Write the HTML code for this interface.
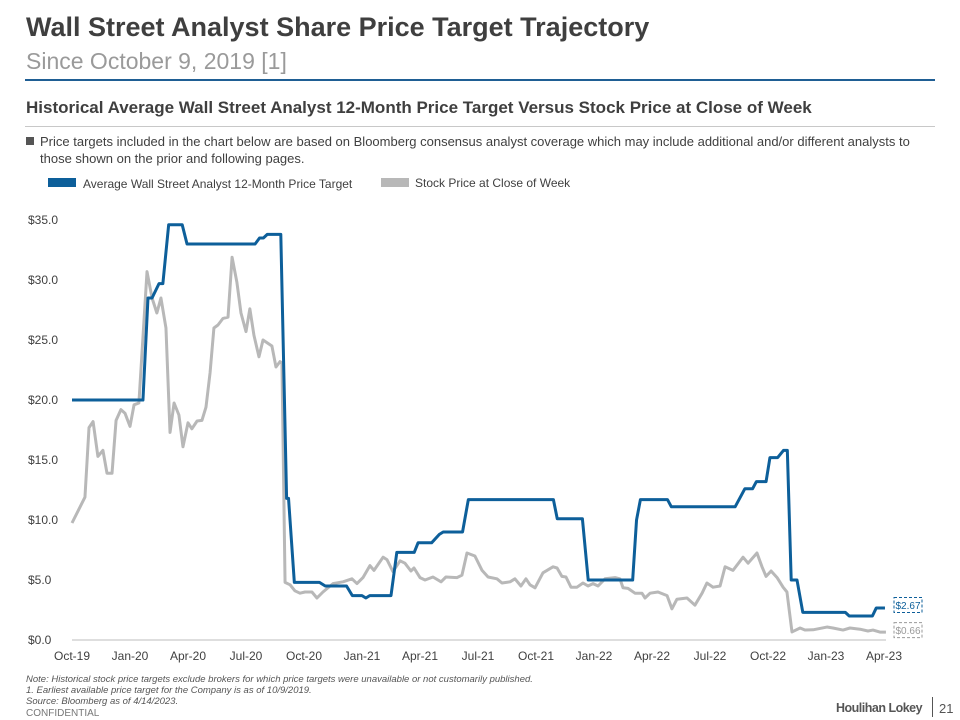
<!DOCTYPE html>
<html><head><meta charset="utf-8"><style>
body{margin:0;width:960px;height:720px;background:#fff;font-family:"Liberation Sans",sans-serif;position:relative;overflow:hidden;color:#404040}
.a{position:absolute;white-space:nowrap}
</style></head><body>
<div class="a" style="left:26px;top:12px;font-size:27px;font-weight:bold;color:#3f3f3f">Wall Street Analyst Share Price Target Trajectory</div>
<div class="a" style="left:26px;top:48px;font-size:23px;color:#9a9a9a">Since October 9, 2019 [1]</div>
<div class="a" style="left:25px;top:79px;width:910px;height:2px;background:#1f5e94"></div>
<div class="a" style="left:26px;top:98px;font-size:17px;font-weight:bold;color:#3f3f3f">Historical Average Wall Street Analyst 12-Month Price Target Versus Stock Price at Close of Week</div>
<div class="a" style="left:25px;top:126px;width:910px;height:1px;background:#c8c8c8"></div>
<div class="a" style="left:26px;top:133px;font-size:13px;line-height:17px"><span style="display:inline-block;width:8px;height:8px;background:#555;margin-right:6px;vertical-align:1px"></span>Price targets included in the chart below are based on Bloomberg consensus analyst coverage which may include additional and/or different analysts to<br><span style="padding-left:14px">those shown on the prior and following pages.</span></div>
<div class="a" style="left:48px;top:178px;width:28px;height:9px;background:#0d5f9a"></div>
<div class="a" style="left:83px;top:177px;font-size:12px">Average Wall Street Analyst 12-Month Price Target</div>
<div class="a" style="left:381px;top:178px;width:28px;height:9px;background:#b8b8b8"></div>
<div class="a" style="left:415px;top:176px;font-size:12px">Stock Price at Close of Week</div>
<svg class="a" id="chart" style="left:0;top:0" width="960" height="720"></svg>
<div class="a" style="left:26px;top:674px;font-size:9.5px;line-height:11px;font-style:italic;color:#555">Note: Historical stock price targets exclude brokers for which price targets were unavailable or not customarily published.<br>1. Earliest available price target for the Company is as of 10/9/2019.<br>Source: Bloomberg as of 4/14/2023.</div>
<div class="a" style="left:26px;top:708px;font-size:10px;color:#777">CONFIDENTIAL</div>
<div class="a" style="left:836px;top:701px;font-size:12.5px;font-weight:bold;color:#555;letter-spacing:-0.5px">Houlihan Lokey</div>
<div class="a" style="left:932px;top:697px;width:1px;height:20px;background:#555"></div>
<div class="a" style="left:939px;top:701px;font-size:13px;color:#555">21</div>
<script>
const xTickLabels=["Oct-19","Jan-20","Apr-20","Jul-20","Oct-20","Jan-21","Apr-21","Jul-21","Oct-21","Jan-22","Apr-22","Jul-22","Oct-22","Jan-23","Apr-23"];
const yTickValues=[0,5,10,15,20,25,30,35];
const targetMonths=[0,3.67,3.93,4.14,4.5,4.7,5.0,5.7,5.95,9.47,9.7,9.9,10.1,10.8,11.1,11.2,11.5,12.8,13.1,14.2,14.5,15.0,15.2,15.4,16.5,16.8,17.7,17.9,18.6,19.0,19.2,20.2,20.5,24.9,25.1,26.4,26.7,29.0,29.2,29.4,30.8,31.0,34.3,34.8,35.2,35.4,35.9,36.1,36.5,36.8,37.0,37.2,37.5,37.8,40.0,40.2,41.4,41.6,42.05];
const targetValues=[20,20,28.5,28.5,29.7,29.7,34.6,34.6,33,33,33.5,33.5,33.8,33.8,11.8,11.8,4.8,4.8,4.5,4.5,3.7,3.7,3.5,3.7,3.7,7.3,7.3,8.1,8.1,8.8,9.0,9.0,11.7,11.7,10.1,10.1,5.0,5.0,10.0,11.7,11.7,11.1,11.1,12.6,12.6,13.2,13.2,15.2,15.2,15.8,15.8,5.0,5.0,2.3,2.3,2.0,2.0,2.67,2.67];
const stockMonths=[0,0.67,0.88,1.09,1.34,1.6,1.81,2.07,2.28,2.53,2.74,3.0,3.21,3.46,3.88,4.14,4.39,4.6,4.86,5.07,5.28,5.53,5.74,6.0,6.2,6.47,6.72,6.93,7.14,7.34,7.55,7.81,8.07,8.28,8.53,8.74,9.0,9.2,9.41,9.67,9.88,10.34,10.55,10.76,10.86,11.02,11.28,11.53,11.79,12.05,12.41,12.67,12.98,13.5,14.02,14.48,14.74,15.05,15.41,15.62,16.09,16.29,16.6,16.97,17.22,17.53,17.69,18.0,18.26,18.67,19.09,19.34,19.91,20.17,20.43,20.84,21.21,21.52,21.98,22.24,22.66,22.91,23.22,23.48,23.69,23.95,24.36,24.88,25.09,25.34,25.55,25.81,26.12,26.43,26.69,26.95,27.21,27.57,28.09,28.34,28.5,28.76,29.12,29.48,29.64,29.9,30.31,30.78,31.03,31.29,31.81,32.22,32.59,32.84,33.16,33.52,33.78,34.19,34.71,34.97,35.43,35.69,35.9,36.16,36.47,36.78,36.98,37.24,37.66,37.91,38.33,39.05,39.36,39.88,40.24,40.76,41.17,41.43,41.79,42.1];
const stockValues=[9.75,11.9,17.7,18.2,15.3,15.8,13.9,13.9,18.3,19.2,18.9,17.8,19.6,19.75,30.7,28.5,27.25,28.5,26,17.3,19.75,18.75,16.1,18.1,17.6,18.25,18.3,19.4,22.25,26,26.25,26.8,26.9,31.9,29.8,27.25,25.7,27.6,25.4,23.6,25,24.5,22.75,23.2,23.1,4.8,4.6,4.1,3.9,4.0,4.0,3.5,4.0,4.7,4.85,5.1,4.7,5.2,6.2,5.8,6.9,6.7,5.7,6.6,6.4,5.75,6.0,5.2,5.0,5.25,4.85,5.25,5.2,5.4,7.25,7.0,5.8,5.25,5.1,4.75,4.85,5.1,4.5,5.1,4.6,4.35,5.6,6.1,6.0,5.3,5.25,4.4,4.4,4.75,4.5,4.7,4.5,5.1,5.2,5.1,4.35,4.3,3.9,3.9,3.5,3.9,4.0,3.7,2.6,3.4,3.5,2.9,3.9,4.75,4.4,4.5,6.1,5.8,6.9,6.4,7.25,6.1,5.3,5.75,5.2,4.4,4.0,0.67,1.0,0.83,0.85,1.08,1.0,0.83,1.0,0.9,0.75,0.83,0.66,0.66];
const lastTarget="$2.67", lastStock="$0.66";
const svg=document.getElementById('chart');const NS='http://www.w3.org/2000/svg';
const X=m=>72+m*58/3, Y=v=>640-v*12;
function mk(t,a){const e=document.createElementNS(NS,t);for(const k in a)e.setAttribute(k,a[k]);svg.appendChild(e);return e;}
yTickValues.forEach(v=>{const t=mk('text',{x:28,y:Y(v)+4,'font-size':12,fill:'#404040'});t.textContent='$'+v.toFixed(1);

});
xTickLabels.forEach((l,i)=>{const t=mk('text',{x:X(i*3),y:660,'font-size':12,fill:'#404040','text-anchor':'middle'});t.textContent=l;

});
const ax=mk('line',{x1:72,x2:886,y1:640,y2:640,stroke:'#bdbdbd','stroke-width':1});


const sp=mk('polyline',{points:stockMonths.map((m,i)=>X(m)+','+Y(stockValues[i])).join(' '),fill:'none',stroke:'#b8b8b8','stroke-width':3,'stroke-linejoin':'round'});


const tp=mk('polyline',{points:targetMonths.map((m,i)=>X(m)+','+Y(targetValues[i])).join(' '),fill:'none',stroke:'#0d5f9a','stroke-width':3,'stroke-linejoin':'round'});


function box(y,txt,col,name){const r=mk('rect',{x:894,y:y-7.5,width:28,height:15,fill:'#fff',stroke:col,'stroke-dasharray':'3,2'});


const t=mk('text',{x:908,y:y+4,'font-size':10,fill:col,'text-anchor':'middle'});t.textContent=txt;

}
box(Y(targetValues[targetValues.length-1])-3,lastTarget,'#0d5f9a','last-target-label');
box(Y(stockValues[stockValues.length-1])-2,lastStock,'#9a9a9a','last-stock-label');
</script>
</body></html>
